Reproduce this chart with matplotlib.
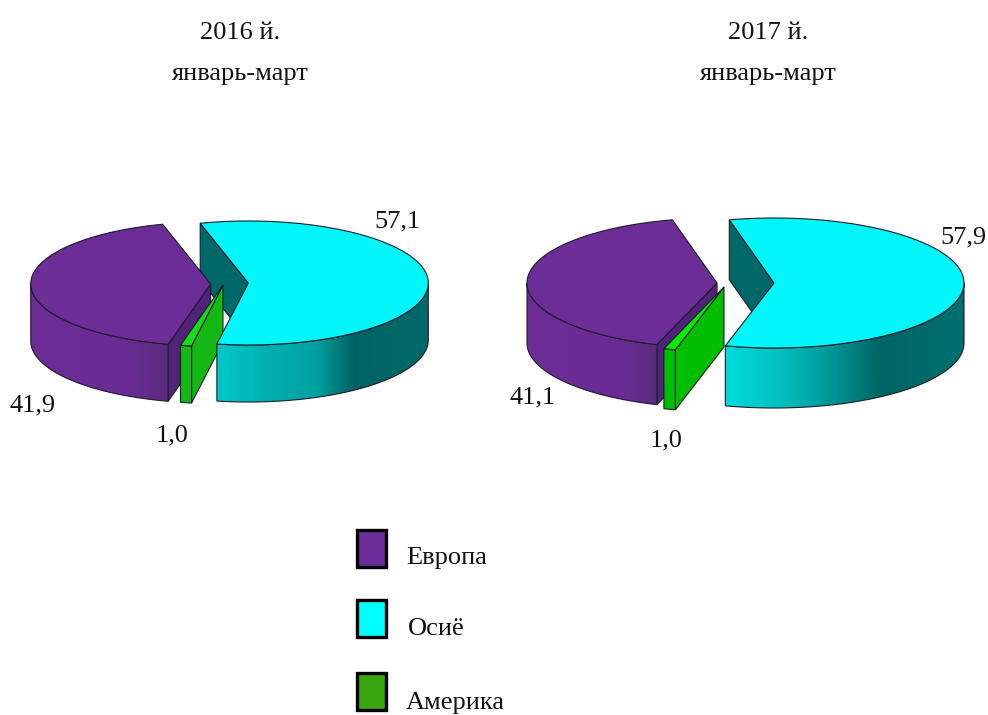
import numpy as np
import matplotlib
matplotlib.use("Agg")
import matplotlib.pyplot as plt
from matplotlib.colors import to_rgb
from matplotlib.patches import Polygon, Rectangle

regions = ["Европа", "Осиё", "Америка"]
values_2016 = [41.9, 57.1, 1.0]
values_2017 = [41.1, 57.9, 1.0]
labels_2016 = ["41,9", "57,1", "1,0"]
labels_2017 = ["41,1", "57,9", "1,0"]
titles = ["2016 й.", "2017 й."]
subtitle = "январь-март"

plt.rcParams["font.family"] = ["Liberation Serif", "DejaVu Serif"]

LINE = "#1c1c2a"
TEXT = "#111111"
FS = 19

fig = plt.figure(figsize=(9.88, 7.15), dpi=100)
ax = fig.add_axes([0, 0, 1, 1])


def arc(cx, cy, a, b, t0, t1, n=120):
    t = np.radians(np.linspace(t0, t1, n))
    return np.column_stack([cx + a * np.cos(t), cy - b * np.sin(t)])


def wall(points, depth, colors, stops, z):
    # side face: top edge plus the same edge moved down, gradient running along x
    poly = np.vstack([points, (points + [0, depth])[::-1]])
    x0, x1 = poly[:, 0].min(), poly[:, 0].max()
    y0, y1 = poly[:, 1].min(), poly[:, 1].max()
    rgb = np.array([to_rgb(c) for c in colors])
    xs = np.linspace(0, 1, 256)
    img = np.stack([np.interp(xs, stops, rgb[:, i]) for i in range(3)], axis=1)[None, :, :]
    im = ax.imshow(img, extent=[x0, x1, y1, y0], aspect="auto", zorder=z, interpolation="bilinear")
    outline = Polygon(poly, closed=True, fc="none", ec=LINE, lw=0.8, zorder=z + 0.1)
    ax.add_patch(outline)
    im.set_clip_path(outline)


def flat_wall(p, q, depth, color, z):
    wall(np.array([p, q]), depth, [color, color], [0, 1], z)


def top(points, color, z):
    ax.add_patch(Polygon(points, closed=True, fc=color, ec=LINE, lw=0.8, zorder=z))


def draw_pie(values, centers, a, b, depth, start, cyan_side, green_top, green_side):
    europe, asia, america = values
    c_eu, c_as, c_am = centers
    # clockwise from the start angle: Осиё, Америка, Европа
    as_end = start - asia * 3.6
    am_end = as_end - america * 3.6
    eu_end = am_end - europe * 3.6

    # Осиё back cut face sits behind everything
    first = arc(*c_as, a, b, start, start, 1)[0]
    flat_wall(first, c_as, depth, "#006868", 1)

    # Европа
    arc_eu = arc(*c_eu, a, b, am_end, eu_end)
    flat_wall(c_eu, arc_eu[0], depth, "#4f2378", 2)
    low = arc(*c_eu, a, b, am_end, -180)
    wall(low, depth, ["#6c2d96", "#6a2c94", "#5a2a80"], [0, 0.7, 1], 2.2)
    top(np.vstack([[c_eu], arc_eu]), "#6c2d96", 2.4)

    # Америка
    arc_am = arc(*c_am, a, b, as_end, am_end, 20)
    flat_wall(arc_am[0], c_am, depth, green_side, 3)
    wall(arc_am, depth, [green_side, green_side], [0, 1], 3.2)
    top(np.vstack([[c_am], arc_am]), green_top, 3.4)

    # Осиё outer face and top go over the green piece
    wall(arc(*c_as, a, b, as_end, 0)[::-1], depth, cyan_side, [0, 0.24, 0.47, 0.65, 1], 4)
    top(np.vstack([[c_as], arc(*c_as, a, b, start, as_end, 240)]), "#00f6f8", 4.4)


draw_pie(values_2016, [(210.7, 284), (248.3, 283), (223, 285)], 180, 62, 57, 105.5,
         ["#00c8c8", "#00b0b0", "#00a0a0", "#006262", "#006a6a"], "#19dc19", "#14b814")
draw_pie(values_2017, [(717, 283), (774, 283), (724, 287)], 190, 65, 60, 103.6,
         ["#00dcdc", "#00bfbf", "#009090", "#006464", "#007070"], "#00f000", "#00be00")

# titles
for x, title in zip([240, 768], titles):
    ax.text(x, 33, title, ha="center", va="center", fontsize=FS, color=TEXT)
    ax.text(x, 74, subtitle, ha="center", va="center", fontsize=FS, color=TEXT)

# value labels
for (x, y), s in zip([(33, 405), (397, 221), (172, 435)], labels_2016):
    ax.text(x, y, s, ha="center", va="center", fontsize=FS, color=TEXT)
for (x, y), s in zip([(533, 397), (963, 237), (666, 440)], labels_2017):
    ax.text(x, y, s, ha="center", va="center", fontsize=FS, color=TEXT)

# legend
legend_colors = ["#6c2d9b", "#00ffff", "#36a40c"]
legend_y = [529, 599, 672]
legend_text = [(406, 558), (408, 629), (406, 703)]
for name, col, y, (tx, ty) in zip(regions, legend_colors, legend_y, legend_text):
    ax.add_patch(Rectangle((357, y + 1), 29, 37, fc=col, ec="black", lw=2.4, zorder=5))
    ax.text(tx, ty, name, ha="left", va="center", fontsize=FS, color=TEXT)

ax.set_xlim(0, 988)
ax.set_ylim(715, 0)
ax.axis("off")

fig.savefig("out.png", dpi=100)
